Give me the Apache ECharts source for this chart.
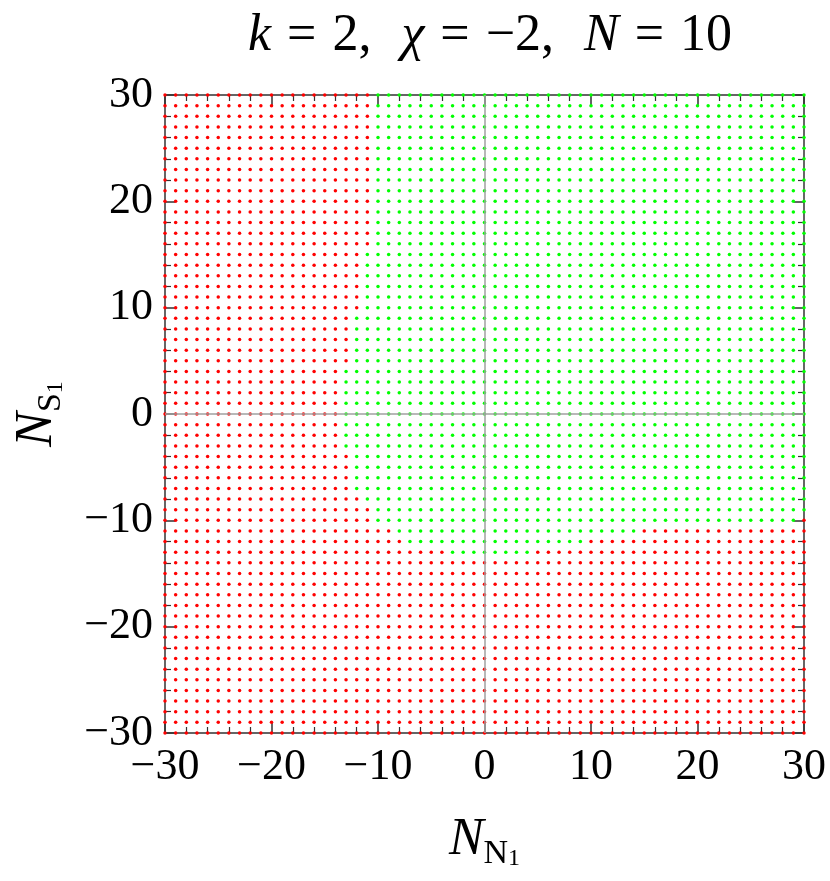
<!DOCTYPE html>
<html>
<head>
<meta charset="utf-8">
<script src="https://cdn.jsdelivr.net/npm/echarts@6/dist/echarts.min.js"></script>
<style>
  html, body { margin: 0; padding: 0; background: #fff; }
  #chart { width: 830px; height: 881px; }
</style>
</head>
<body>
<div id="chart"></div>
<script>
// lattice of integer points shown on both axes
var latticeMin = -30;
var latticeMax = 30;
var tickValues = [-30, -20, -10, 0, 10, 20, 30];

// rows of N_S1 grouped in bands; inside each band the green points run
// from greenFrom to greenTo in N_N1, every other point is red
var bandLow   = [16, 10, 5, -3, -7, -8, -9, -10, -11, -12, -13];
var bandHigh  = [30, 15, 9, 4, -4, -8, -9, -10, -11, -12, -13];
var greenFrom = [-10, -11, -12, -13, -12, -11, -10, -10, -8, -7, -3];
var greenTo   = [30, 30, 30, 30, 30, 30, 30, 29, 14, 9, 4];

var greenPts = [];
var redPts = [];
for (var y = latticeMin; y <= latticeMax; y++) {
    var band = -1;
    for (var b = 0; b < bandLow.length; b++) {
        if (y >= bandLow[b] && y <= bandHigh[b]) band = b;
    }
    for (var x = latticeMin; x <= latticeMax; x++) {
        if (band >= 0 && x >= greenFrom[band] && x <= greenTo[band]) {
            greenPts.push([x, y]);
        } else {
            redPts.push([x, y]);
        }
    }
}

var serif = "'Liberation Serif', 'DejaVu Serif', serif";
var axisColor = '#333';

function minus(v) {
    return String(v).replace('-', '\u2212');
}

var nameRich = {
    i: { fontFamily: serif, fontStyle: 'italic', fontSize: 52, lineHeight: 62, color: '#000' },
    s: { fontFamily: serif, fontSize: 34, lineHeight: 28, verticalAlign: 'bottom', color: '#000' },
    ss: { fontFamily: serif, fontSize: 24, lineHeight: 12, verticalAlign: 'bottom', color: '#000' }
};

function makeAxis(pos, showLabel, extra) {
    var ax = {
        type: 'value',
        position: pos,
        min: latticeMin,
        max: latticeMax,
        interval: 10,
        splitLine: { show: false },
        axisLine: { show: true, onZero: false, lineStyle: { color: axisColor, width: 1.5 } },
        axisTick: { show: true, inside: true, length: 10, lineStyle: { color: axisColor, width: 1.5 } },
        minorTick: { show: true, splitNumber: 5, length: 6, lineStyle: { color: axisColor, width: 1.2 } },
        axisLabel: { show: showLabel }
    };
    for (var k in extra) ax[k] = extra[k];
    return ax;
}

var tickLabel = function (margin) {
    return {
        show: true, margin: margin, fontFamily: serif, fontSize: 44, color: '#000',
        formatter: function (v) { return minus(v); }
    };
};

var chart = echarts.init(document.getElementById('chart'));

var option = {
    animation: false,
    backgroundColor: '#fff',
    title: {
        text: '{i|k}{e|=}{r|2,}{g|}{i|\u03c7}{e|=}{r|\u22122,}{g|}{i|N}{e|=}{r|10}',
        left: 485,
        top: 5,
        textAlign: 'center',
        textStyle: {
            fontWeight: 'normal',
            rich: {
                i: { fontFamily: serif, fontStyle: 'italic', fontWeight: 'normal', fontSize: 52, color: '#000' },
                r: { fontFamily: serif, fontWeight: 'normal', fontSize: 52, color: '#000' },
                e: { fontFamily: serif, fontWeight: 'normal', fontSize: 52, color: '#000', padding: [0, 16, 0, 16] },
                g: { width: 30 }
            }
        }
    },
    grid: { left: 165, right: 26, top: 95, bottom: 148, containLabel: false },
    xAxis: [
        makeAxis('bottom', true, {
            name: '{i|N}{s|N}{ss|1}',
            nameLocation: 'middle',
            nameGap: 76,
            nameTextStyle: { rich: nameRich },
            axisLabel: tickLabel(12)
        }),
        makeAxis('top', false, {})
    ],
    yAxis: [
        makeAxis('left', true, {
            name: '{i|N}{s|S}{ss|1}',
            nameLocation: 'middle',
            nameGap: 97,
            nameRotate: 90,
            nameTextStyle: { rich: nameRich },
            axisLabel: tickLabel(12)
        }),
        makeAxis('right', false, {})
    ],
    series: [
        {
            type: 'scatter',
            name: 'zero lines',
            data: [],
            z: 1,
            markLine: {
                silent: true,
                symbol: 'none',
                label: { show: false },
                lineStyle: { color: '#a0a0a0', width: 1.5, type: 'solid' },
                data: [{ xAxis: 0 }, { yAxis: 0 }]
            }
        },
        {
            type: 'scatter',
            name: 'red',
            data: redPts,
            symbolSize: 3.5,
            itemStyle: { color: '#ff0000', opacity: 1 },
            z: 3
        },
        {
            type: 'scatter',
            name: 'green',
            data: greenPts,
            symbolSize: 3.5,
            itemStyle: { color: '#00ff00', opacity: 1 },
            z: 3
        }
    ]
};

option && chart.setOption(option);
</script>
</body>
</html>
